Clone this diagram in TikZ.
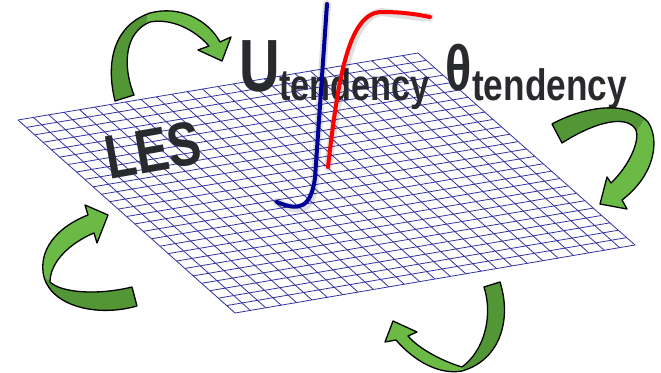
\documentclass[tikz,border=0pt]{standalone}
\usepackage{fontspec}
\setmainfont{Liberation Sans}
\usetikzlibrary{calc}
\definecolor{gridblue}{RGB}{50,50,165}
\definecolor{glight}{RGB}{108,186,70}
\definecolor{gdark}{RGB}{82,150,54}
\definecolor{txt}{RGB}{40,42,46}
\definecolor{ublue}{RGB}{0,0,150}
\definecolor{tred}{RGB}{255,0,0}
\def\arrowOne{(115,101) .. controls (105,60) and (115,25) .. (150,13) .. controls (180,5) and (208,20) .. (220,42) -- (231,37) -- (222,61) -- (198,50) -- (209,46) .. controls (195,30) and (172,18) .. (150,22) .. controls (125,32) and (122,65) .. (134,95) -- cycle}
\def\arrowTwo{(552,124) .. controls (585,106) and (628,100) .. (648,122) .. controls (660,140) and (655,175) .. (622,200) -- (627,209) -- (600,204) -- (607,177) -- (611,183) .. controls (630,165) and (640,140) .. (636,130) .. controls (628,115) and (598,120) .. (562,143) -- cycle}
\def\arrowThree{(132,287) .. controls (95,296) and (60,292) .. (50,282) .. controls (50,262) and (70,243) .. (94,233) -- (97,243) -- (108,215) -- (85,205) -- (88,215) .. controls (62,225) and (40,245) .. (43,272) .. controls (47,305) and (95,318) .. (137,306) -- cycle}
\def\arrowFour{(484,287) .. controls (493,315) and (485,350) .. (462,367) .. controls (445,362) and (420,350) .. (408,336) -- (417,332) -- (393,321) -- (385,342) -- (396,340) .. controls (415,362) and (440,375) .. (462,371) .. controls (500,360) and (512,320) .. (500,282) -- cycle}
\begin{document}
\begin{tikzpicture}[x=1pt,y=-1pt,
  gridline/.style={draw=gridblue,line width=0.8pt},
  arrowfill/.style={fill=glight},
  arrowdark/.style={fill=gdark},
  arrowedge/.style={draw=black,line width=1.3pt,line join=round},
  bigtxt/.style={text=txt,inner sep=0pt,font=\bfseries},
  profile/.style={line width=4pt,line cap=round},
  shade/.style={draw=black,opacity=0.12,line width=8pt,line cap=round}]
\useasboundingbox[fill=white] (0,0) rectangle (661,372);
% grid
\coordinate (A) at (18,120);
\coordinate (B) at (418,53);
\coordinate (C) at (635,245);
\coordinate (D) at (235,313);
\foreach \i in {0,...,26}{
  \draw[gridline] ($(A)!{\i/26}!(D)$) -- ($(B)!{\i/26}!(C)$);
  \draw[gridline] ($(A)!{\i/26}!(B)$) -- ($(D)!{\i/26}!(C)$);
}
% texts
\node[bigtxt,anchor=center,rotate=10] (les) at (153,150) {\fontsize{62}{62}\selectfont\scalebox{0.8}[1]{LES}};
\node[bigtxt,anchor=base west] (u) at (239,91) {\fontsize{74}{74}\selectfont\scalebox{0.76}[1]{U}};
\node[bigtxt,anchor=base west] (usub) at (279,100) {\fontsize{44}{44}\selectfont\scalebox{0.78}[1]{tendency}};
\node[bigtxt,anchor=base west] (th) at (445,90) {\fontsize{64}{64}\selectfont\scalebox{0.76}[1]{θ}};
\node[bigtxt,anchor=base west] (thsub) at (472,100) {\fontsize{44}{44}\selectfont\scalebox{0.8}[1]{tendency}};
% profiles
\coordinate (ub0) at (327,4);
\coordinate (ub1) at (315,178);
\coordinate (ub2) at (277,202);
\coordinate (rt0) at (328,167);
\coordinate (rt1) at (382,12);
\coordinate (rt2) at (430,17);
\begin{scope}[shift={(2,3)}]
\draw[shade] (ub0) -- (ub1) .. controls (311,207) and (300,212) .. (ub2);
\draw[shade] (rt0) .. controls (338,80) and (348,12) .. (rt1) .. controls (405,12) and (420,15) .. (rt2);
\end{scope}
\draw[profile,ublue] (ub0) -- (ub1) .. controls (311,207) and (300,212) .. (ub2);
\draw[profile,tred] (rt0) .. controls (338,80) and (348,12) .. (rt1) .. controls (405,12) and (420,15) .. (rt2);
% arrows
\fill[arrowfill] \arrowOne;
\begin{scope}
\clip (90,0) -- (148,0) -- (146,30) -- (140,115) -- (90,115) -- cycle;
\fill[arrowdark] \arrowOne;
\end{scope}
\draw[arrowedge] \arrowOne;
\fill[arrowfill] \arrowTwo;
\begin{scope}
\clip (540,90) -- (645,95) -- (645,118) -- (636,132) -- (540,170) -- cycle;
\fill[arrowdark] \arrowTwo;
\end{scope}
\draw[arrowedge] \arrowTwo;
\fill[arrowfill] \arrowThree;
\begin{scope}
\clip (30,272) -- (55,283) -- (150,283) -- (150,330) -- (30,330) -- cycle;
\fill[arrowdark] \arrowThree;
\end{scope}
\draw[arrowedge] \arrowThree;
\fill[arrowfill] \arrowFour;
\begin{scope}
\clip (470,275) -- (520,275) -- (520,380) -- (460,380) -- (466,360) -- (470,340) -- cycle;
\fill[arrowdark] \arrowFour;
\end{scope}
\draw[arrowedge] \arrowFour;
\end{tikzpicture}
\end{document}
